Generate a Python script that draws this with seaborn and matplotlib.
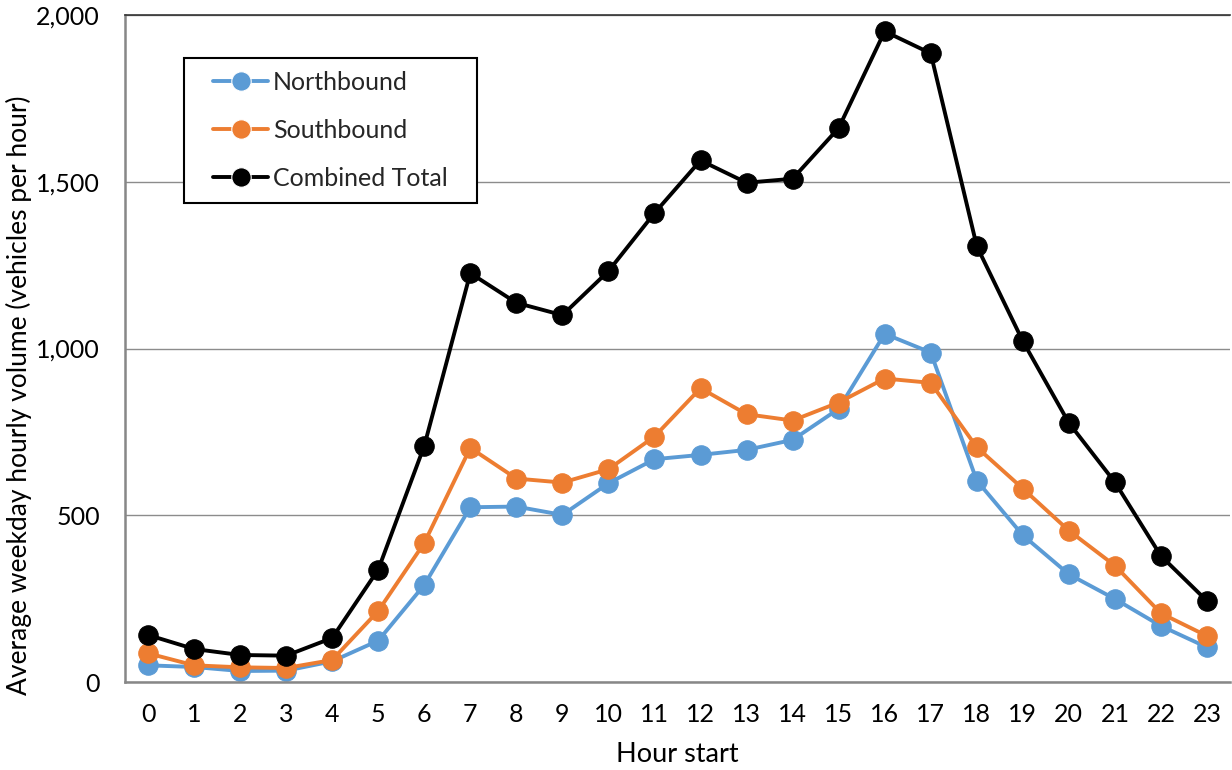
import matplotlib
matplotlib.use("Agg")
import matplotlib.pyplot as plt
from matplotlib.patches import Rectangle
import seaborn as sns
import pandas as pd

hours = list(range(24))
northbound = [50, 45, 33, 34, 62, 124, 291, 524, 526, 501, 596, 668, 681, 696, 726,
              819, 1044, 988, 604, 440, 323, 249, 168, 104]
southbound = [86, 50, 44, 42, 66, 213, 417, 702, 610, 598, 638, 736, 881, 803, 784,
              838, 910, 897, 704, 580, 454, 349, 206, 138]
combined = [141, 99, 81, 79, 132, 337, 708, 1226, 1137, 1100, 1232, 1406, 1564, 1497, 1509,
            1661, 1951, 1885, 1307, 1022, 777, 599, 378, 243]
series_names = ["Northbound", "Southbound", "Combined Total"]
colors = ["#5B9BD5", "#ED7D31", "#000000"]
y_ticks = [0, 500, 1000, 1500, 2000]
y_tick_labels = ["0", "500", "1,000", "1,500", "2,000"]

df = pd.DataFrame({
    "hour": hours * 3,
    "volume": northbound + southbound + combined,
    "series": [series_names[0]] * 24 + [series_names[1]] * 24 + [series_names[2]] * 24,
})

sns.set_theme(style="white")
plt.rcParams["font.family"] = ["Lato", "DejaVu Sans"]

W, H = 1232, 770
fig = plt.figure(figsize=(W / 100, H / 100), dpi=100)
ax = fig.add_axes([125 / W, 1 - 682 / H, 1105 / W, 667 / H])

sns.lineplot(data=df, x="hour", y="volume", hue="series", hue_order=series_names,
             palette=colors, marker="o", markersize=14, linewidth=2.8,
             markeredgewidth=0.8, ax=ax, legend=True)
for line, c in zip(ax.lines, colors):
    line.set_markeredgecolor(c)

ax.set_xlim(-0.5, 23.5)
ax.set_ylim(0, 2000)
ax.set_xticks(hours)
ax.set_xticklabels([str(h) for h in hours])
ax.set_yticks(y_ticks)
ax.set_yticklabels(y_tick_labels)
ax.tick_params(axis="both", labelsize=18, length=0, labelcolor="black")
ax.tick_params(axis="x", pad=15)
ax.tick_params(axis="y", pad=18)
ax.yaxis.grid(True, color="#8c8c8c", linewidth=1.0)
ax.set_axisbelow(True)

ax.spines["right"].set_visible(False)
ax.spines["top"].set_color("#333333")
ax.spines["top"].set_linewidth(1.2)
for side in ["left", "bottom"]:
    ax.spines[side].set_color("#878787")
    ax.spines[side].set_linewidth(1.8)

ax.set_xlabel("Hour start", fontsize=19.5, color="black")
ax.set_ylabel("Average weekday hourly volume (vehicles per hour)", fontsize=19, color="black")
ax.xaxis.set_label_coords(0.5, -0.09)
ax.yaxis.set_label_coords((32 - 125) / 1105, 0.43)

# legend entries without a frame, then a plain box drawn around them
leg = ax.legend(loc="upper left", bbox_to_anchor=(213 / W, 1 - 71 / H),
                bbox_transform=fig.transFigure, fontsize=18, frameon=False,
                borderpad=0, borderaxespad=0, handlelength=2.2,
                labelspacing=1.0, handletextpad=0.2)
leg.set_zorder(6)
fig.canvas.draw()
bb = leg.get_window_extent()
padx, pady = 29, 13
to_axes = ax.transAxes.inverted()
(x0, y0) = to_axes.transform((bb.x0 - padx, bb.y0 - pady))
(x1, y1) = to_axes.transform((bb.x1 + padx, bb.y1 + pady))
box = Rectangle((x0, y0), x1 - x0, y1 - y0, transform=ax.transAxes,
                facecolor="white", edgecolor="black", linewidth=1.5,
                clip_on=False, zorder=5)
ax.add_patch(box)

fig.savefig("out.png", dpi=100)
